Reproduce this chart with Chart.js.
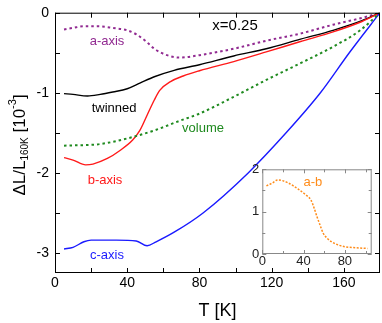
<!DOCTYPE html>
<html>
<head>
<meta charset="utf-8">
<script src="https://cdn.jsdelivr.net/npm/chart.js@4.4.1/dist/chart.umd.min.js"></script>
<style>
  html, body { margin: 0; padding: 0; background: #fff; }
  #wrap { position: relative; width: 382px; height: 323px; }
  #mainChart { position: absolute; left: 0; top: 0; }
  #insetChart { position: absolute; left: 245px; top: 160px; }
</style>
</head>
<body>
<div id="wrap">
  <canvas id="mainChart" width="382" height="323"></canvas>
  <canvas id="insetChart" width="135" height="112"></canvas>
</div>
<script>
// data (T in K, dL/L in 1e-3)
const aAxisT = [5, 10, 16, 24, 32, 40, 45, 50, 55, 62, 69, 80, 99, 117, 136, 154, 170, 180];
const aAxis  = [-0.21, -0.19, -0.17, -0.17, -0.19, -0.22, -0.27, -0.35, -0.45, -0.53, -0.56, -0.53, -0.45, -0.35, -0.26, -0.15, -0.065, 0];

const twinnedT = [5, 10, 18, 25, 32, 40, 47, 55, 66, 80, 99, 117, 136, 154, 170, 180];
const twinned  = [-1.01, -1.02, -1.04, -1.02, -0.99, -0.95, -0.88, -0.80, -0.72, -0.65, -0.54, -0.45, -0.33, -0.22, -0.10, 0];

const bAxisT = [5, 10, 17, 21, 29, 36, 43, 47, 51, 55, 58, 64, 71, 80, 99, 117, 136, 154, 170, 180];
const bAxis  = [-1.81, -1.84, -1.90, -1.89, -1.82, -1.72, -1.59, -1.47, -1.28, -1.09, -0.97, -0.86, -0.79, -0.725, -0.61, -0.49, -0.36, -0.24, -0.11, 0];

const volumeT = [5, 25, 40, 55, 69, 80, 99, 117, 136, 154, 169, 180];
const volume  = [-1.66, -1.64, -1.57, -1.47, -1.35, -1.26, -1.05, -0.84, -0.63, -0.425, -0.22, 0];

const cAxisT = [5, 10, 16, 20, 34, 45, 51, 56, 66, 82, 107, 128, 147, 163, 180];
const cAxis  = [-2.95, -2.93, -2.86, -2.84, -2.84, -2.85, -2.91, -2.86, -2.74, -2.5, -2.0, -1.5, -1.0, -0.5, 0];

// inset a-b
const abT = [4, 10, 15, 25, 36, 43, 47, 50, 53, 56, 59, 63, 67, 73, 80, 90, 102];
const ab  = [1.61, 1.68, 1.75, 1.68, 1.51, 1.38, 1.28, 1.10, 0.88, 0.68, 0.49, 0.37, 0.29, 0.22, 0.17, 0.15, 0.13];

// ticks
const xMajor = [0, 40, 80, 120, 160];
const xMinor = [20, 60, 100, 140];
const yMajor = [0, -1, -2, -3];
const yMinor = [-0.5, -1.5, -2.5];
const insetXMajor = [0, 40, 80];
const insetXMinor = [20, 60, 100];
const insetYMajor = [0, 1, 2];
const insetYMinor = [0.5, 1.5];

const FONT = "'Liberation Sans', Arial, Helvetica, sans-serif";

function pts(xs, ys) {
  return xs.map((x, i) => ({ x: x, y: ys[i] }));
}

// keep tick labels from pushing the plot area around
function fixY(w) {
  return s => { s.width = w; s.paddingTop = 0; s.paddingBottom = 0; };
}
function fixX(h) {
  return s => { s.height = h; s.paddingLeft = 0; s.paddingRight = 0; };
}

// frame with inward ticks on every side
const framePlugin = {
  id: 'frame',
  afterDatasetsDraw(chart, args, opts) {
    const { ctx, chartArea: a, scales } = chart;
    const sx = scales.x, sy = scales.y;
    ctx.save();
    ctx.strokeStyle = opts.color;
    ctx.lineWidth = 1;
    ctx.strokeRect(a.left + 0.5, a.top + 0.5, a.right - a.left - 1, a.bottom - a.top - 1);
    ctx.beginPath();
    const xt = (list, len) => list.forEach(v => {
      const px = Math.round(sx.getPixelForValue(v)) + 0.5;
      ctx.moveTo(px, a.bottom); ctx.lineTo(px, a.bottom - len);
      ctx.moveTo(px, a.top); ctx.lineTo(px, a.top + len);
    });
    const yt = (list, len) => list.forEach(v => {
      const py = Math.round(sy.getPixelForValue(v)) + 0.5;
      ctx.moveTo(a.left, py); ctx.lineTo(a.left + len, py);
      ctx.moveTo(a.right, py); ctx.lineTo(a.right - len, py);
    });
    xt(opts.xMajor, opts.major); xt(opts.xMinor, opts.minor);
    yt(opts.yMajor, opts.major); yt(opts.yMinor, opts.minor);
    ctx.stroke();
    ctx.restore();
  }
};

// curve labels placed in data coordinates
const notesPlugin = {
  id: 'notes',
  afterDatasetsDraw(chart, args, opts) {
    const { ctx, scales } = chart;
    ctx.save();
    ctx.textAlign = 'center';
    ctx.textBaseline = 'middle';
    opts.items.forEach(n => {
      ctx.font = n.size + 'px ' + FONT;
      ctx.fillStyle = n.color;
      ctx.fillText(n.text, scales.x.getPixelForValue(n.x), scales.y.getPixelForValue(n.y));
    });
    ctx.restore();
  }
};

// rotated y title with subscript and superscript
const yTitlePlugin = {
  id: 'ytitle',
  afterDraw(chart) {
    const ctx = chart.ctx;
    const parts = [
      { t: '\u0394L/L', size: 17, dy: 0 },
      { t: '160K', size: 10, dy: 3 },
      { t: ' [10', size: 17, dy: 0 },
      { t: '-3', size: 11, dy: -9 },
      { t: ']', size: 17, dy: 0 }
    ];
    ctx.save();
    let total = 0;
    parts.forEach(p => { ctx.font = p.size + 'px ' + FONT; p.w = ctx.measureText(p.t).width; total += p.w; });
    ctx.translate(25, 145);
    ctx.rotate(-Math.PI / 2);
    ctx.fillStyle = '#000';
    ctx.textBaseline = 'alphabetic';
    ctx.textAlign = 'left';
    let x = -total / 2;
    parts.forEach(p => {
      ctx.font = p.size + 'px ' + FONT;
      ctx.fillText(p.t, x, p.dy);
      x += p.w;
    });
    ctx.restore();
  }
};

const whiteBg = {
  id: 'whitebg',
  beforeDraw(chart) {
    const { ctx, chartArea: a } = chart;
    ctx.save();
    ctx.fillStyle = '#fff';
    ctx.fillRect(a.left, a.top, a.right - a.left, a.bottom - a.top);
    ctx.restore();
  }
};

function line(data, color, dashed, width) {
  return {
    data: data,
    borderColor: color,
    borderWidth: width,
    borderDash: dashed ? [2.5, 3] : [],
    pointRadius: 0,
    fill: false,
    cubicInterpolationMode: 'monotone'
  };
}

new Chart(document.getElementById('mainChart'), {
  type: 'line',
  data: {
    datasets: [
      line(pts(volumeT, volume), '#1f8a1f', true, 2),
      line(pts(cAxisT, cAxis), '#1a1aff', false, 1.4),
      line(pts(bAxisT, bAxis), '#ff1a1a', false, 1.4),
      line(pts(twinnedT, twinned), '#000000', false, 1.4),
      line(pts(aAxisT, aAxis), '#912a91', true, 2)
    ]
  },
  options: {
    responsive: false,
    animation: false,
    layout: { padding: { left: 0, right: 2, top: 12.7, bottom: 0 } },
    plugins: {
      legend: { display: false },
      tooltip: { enabled: false },
      frame: { color: '#000', major: 5, minor: 5, xMajor: xMajor, xMinor: xMinor, yMajor: yMajor, yMinor: yMinor },
      notes: {
        items: [
          { text: 'x=0.25', x: 99.7, y: -0.166, color: '#000', size: 15 },
          { text: 'a-axis', x: 28.8, y: -0.354, color: '#912a91', size: 13 },
          { text: 'twinned', x: 32.7, y: -1.19, color: '#000', size: 13 },
          { text: 'volume', x: 82, y: -1.45, color: '#1f8a1f', size: 13 },
          { text: 'b-axis', x: 27.7, y: -2.09, color: '#ff1a1a', size: 13 },
          { text: 'c-axis', x: 28.8, y: -3.03, color: '#1a1aff', size: 13 }
        ]
      }
    },
    scales: {
      x: {
        type: 'linear',
        min: 0,
        max: 180,
        afterBuildTicks: s => { s.ticks = xMajor.map(v => ({ value: v })); },
        afterFit: fixX(50),
        grid: { display: false, drawTicks: false },
        border: { display: false },
        ticks: { color: '#000', font: { size: 14, family: FONT }, padding: 2, maxRotation: 0 },
        title: { display: true, text: 'T [K]', color: '#000', font: { size: 18, family: FONT }, padding: { top: 0, bottom: 1 } }
      },
      y: {
        type: 'linear',
        min: -3.25,
        max: 0,
        afterBuildTicks: s => { s.ticks = yMajor.map(v => ({ value: v })); },
        afterFit: fixY(55),
        grid: { display: false, drawTicks: false },
        border: { display: false },
        ticks: { color: '#000', font: { size: 14, family: FONT }, padding: 6, callback: v => String(v) }
      }
    }
  },
  plugins: [framePlugin, notesPlugin, yTitlePlugin]
});

new Chart(document.getElementById('insetChart'), {
  type: 'line',
  data: {
    datasets: [
      {
        data: pts(abT, ab),
        borderColor: '#ff8c1a',
        borderWidth: 1.5,
        borderDash: [2, 1.5],
        pointRadius: 0,
        fill: false,
        cubicInterpolationMode: 'monotone'
      }
    ]
  },
  options: {
    responsive: false,
    animation: false,
    layout: { padding: { left: 0, right: 8.3, top: 9.3, bottom: 0 } },
    plugins: {
      legend: { display: false },
      tooltip: { enabled: false },
      frame: { color: '#888', major: 4, minor: 3, xMajor: insetXMajor, xMinor: insetXMinor, yMajor: insetYMajor, yMinor: insetYMinor },
      notes: { items: [{ text: 'a-b', x: 49, y: 1.68, color: '#ff8c1a', size: 13 }] }
    },
    scales: {
      x: {
        type: 'linear',
        min: 0,
        max: 106,
        afterBuildTicks: s => { s.ticks = insetXMajor.map(v => ({ value: v })); },
        afterFit: fixX(18),
        grid: { display: false, drawTicks: false },
        border: { display: false },
        ticks: { color: '#222', font: { size: 13, family: FONT }, padding: 0, maxRotation: 0 }
      },
      y: {
        type: 'linear',
        min: 0,
        max: 2,
        afterBuildTicks: s => { s.ticks = insetYMajor.map(v => ({ value: v })); },
        afterFit: fixY(17.3),
        grid: { display: false, drawTicks: false },
        border: { display: false },
        ticks: { color: '#222', font: { size: 13, family: FONT }, padding: 3 }
      }
    }
  },
  plugins: [whiteBg, framePlugin, notesPlugin]
});
</script>
</body>
</html>
